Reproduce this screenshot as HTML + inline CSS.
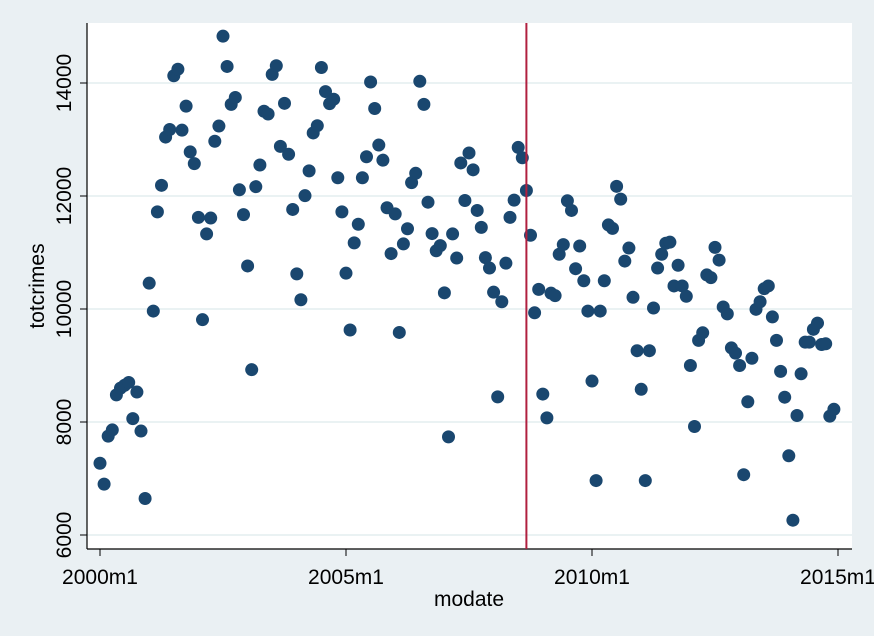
<!DOCTYPE html>
<html><head><meta charset="utf-8"><style>
body{margin:0;background:#eaf0f3;}
svg{display:block;font-family:"Liberation Sans",Arial,sans-serif;}
</style></head><body>
<svg id="chart" width="874" height="636">
<rect x="0" y="0" width="874" height="636" fill="#eaf0f3"/>
<rect x="87" y="23" width="765" height="526" fill="#ffffff"/>
<g id="grid"></g><g id="axes"></g><g id="marks"></g>
<text x="469" y="606" font-size="21" text-anchor="middle" fill="#000">modate</text>
<text transform="translate(44,286) rotate(-90)" font-size="21" text-anchor="middle" fill="#000">totcrimes</text>
</svg>
<script>
const yTicks=[6000,8000,10000,12000,14000];
const xTickMonths=[0,60,120,180];
const xTickLabels=["2000m1","2005m1","2010m1","2015m1"];
const cutoffMonth=104;
const totcrimes=[7270,6900,7750,7860,8480,8600,8650,8700,8060,8530,7840,6646,10457,9963,11719,12189,13043,13177,14128,14244,
13165,13591,12780,12573,11622,9811,11329,11610,12969,13238,14829,14293,13622,13744,12110,11670,10762,8926,12165,12549,
13500,13451,14152,14305,12878,13640,12738,11762,10622,10164,12006,12445,13116,13244,14274,13848,13634,13713,12323,11719,
10634,9628,11170,11500,12323,12695,14018,13549,12902,12634,11792,10981,11683,9585,11152,11420,12237,12402,14030,13622,
11890,11335,11030,11122,10286,7737,11329,10902,12585,11920,12762,12463,11744,11445,10909,10725,10298,8445,10128,10811,
11622,11927,12860,12677,12097,11305,9933,10347,8494,8073,10280,10237,10969,11140,11915,11744,10713,11115,10500,9963,
8725,6963,9963,10500,11488,11427,12171,11945,10848,11079,10207,9262,8579,6963,9262,10018,10725,10969,11164,11183,
10408,10774,10408,10225,9000,7920,9445,9579,10603,10555,11091,10866,10036,9914,9311,9219,9000,7067,8359,9128,
9994,10128,10360,10408,9860,9445,8896,8439,7402,6262,8115,8853,9414,9414,9640,9750,9372,9384,8103,8225];
const NS="http://www.w3.org/2000/svg";
const xs=m=>100+m*(738/180);
const ys=v=>535-(v-6000)*(452/8000);
function mk(tag,attrs,parent){const e=document.createElementNS(NS,tag);for(const k in attrs)e.setAttribute(k,attrs[k]);parent.appendChild(e);return e;}
const grid=document.getElementById('grid'),axes=document.getElementById('axes'),marks=document.getElementById('marks');
yTicks.forEach(v=>{
 const g=mk('line',{x1:87,x2:852,y1:ys(v),y2:ys(v),stroke:'#eaf2f3','stroke-width':2},grid);
 
 
 const t=mk('line',{x1:80,x2:87,y1:ys(v),y2:ys(v),stroke:'#000','stroke-width':1},axes);
 
 
 const l=mk('text',{transform:`translate(71,${ys(v)}) rotate(-90)`,'font-size':21,'text-anchor':'middle',fill:'#000'},axes);
 l.textContent=v;
 
 
});
xTickMonths.forEach((m,i)=>{
 const t=mk('line',{x1:xs(m),x2:xs(m),y1:549,y2:556,stroke:'#000','stroke-width':1},axes);
 
 
 const l=mk('text',{x:xs(m),y:584,'font-size':21,'text-anchor':'middle',fill:'#000'},axes);
 l.textContent=xTickLabels[i];
 
 
});
const ya=mk('line',{x1:87,x2:87,y1:23,y2:549,stroke:'#000','stroke-width':1.2},axes);


const xa=mk('line',{x1:87,x2:852,y1:549,y2:549,stroke:'#000','stroke-width':1.2},axes);


totcrimes.forEach((v,i)=>{
 const c=mk('circle',{cx:xs(i),cy:ys(v),r:6.5,fill:'#1a476f'},marks);
 
 
});
const vl=mk('line',{x1:xs(cutoffMonth),x2:xs(cutoffMonth),y1:23,y2:549,stroke:'#b0203f','stroke-width':2},marks);


</script>
</body></html>
